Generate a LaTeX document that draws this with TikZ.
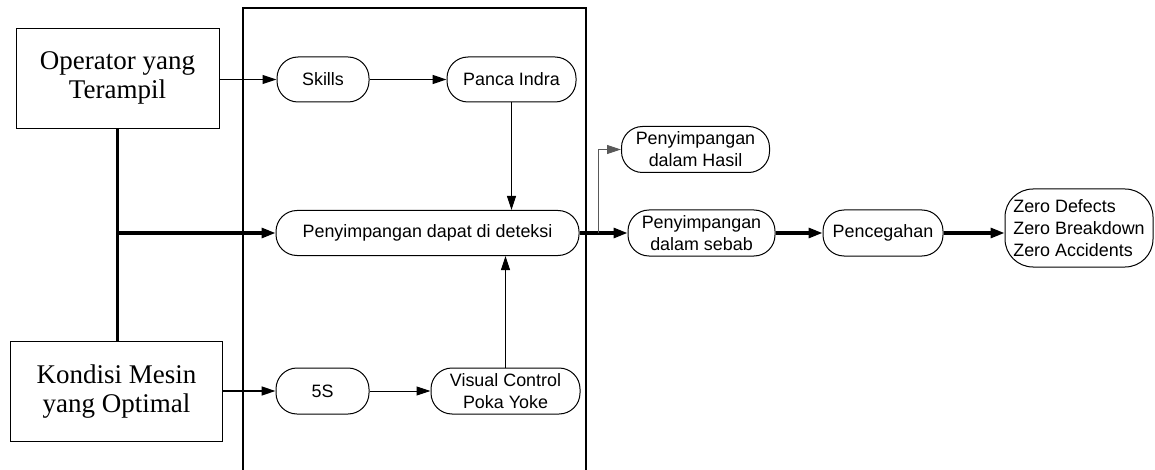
\documentclass[tikz,border=0pt]{standalone}
\usepackage{fontspec}
\setmainfont{Liberation Serif}
\setsansfont{Liberation Sans}
\usetikzlibrary{arrows.meta}
\tikzset{
  srcbox/.style={draw, line width=1pt, inner sep=0pt, align=center,
    font=\rmfamily\fontsize{27}{29}\selectfont},
  pill/.style={draw, line width=1pt, rounded corners=21pt, inner sep=0pt, align=center,
    font=\sffamily\fontsize{17.9}{21.8}\selectfont},
  thinarrow/.style={line width=1pt, -{Triangle[length=14pt,width=9pt]}},
  thickarrow/.style={line width=3pt, -{Triangle[length=14pt,width=10pt]}},
  thickline/.style={line width=3pt},
  frame/.style={line width=2pt},
}
\begin{document}
\begin{tikzpicture}[x=1pt,y=-1pt]
\useasboundingbox (0,0) rectangle (1155,470);
% frame
\draw[frame] (243,470) -- (243,8.5) -- (585.5,8.5) -- (585.5,470);
% nodes
\node[srcbox, minimum width=203pt, minimum height=100pt] (op) at (117.5,78.3) {Operator yang\\Terampil};
\node[srcbox, minimum width=212.5pt, minimum height=100pt] (kon) at (116.5,391.7) {Kondisi Mesin\\yang Optimal};
\node[pill, minimum width=92pt, minimum height=45pt] (skills) at (323,79.5) {Skills};
\node[pill, minimum width=129pt, minimum height=45pt] (panca) at (511.5,79.5) {Panca Indra};
\node[pill, minimum width=303pt, minimum height=45pt] (pdd) at (427.5,233) {Penyimpangan dapat di deteksi};
\node[pill, minimum width=93pt, minimum height=46pt] (s5) at (322.5,391) {5S};
\node[pill, minimum width=149pt, minimum height=46pt] (vc) at (505.5,391) {Visual Control\\Poka Yoke};
\node[pill, minimum width=148pt, minimum height=46pt] (hasil) at (695.5,149.5) {Penyimpangan\\dalam Hasil};
\node[pill, minimum width=147pt, minimum height=46pt] (sebab) at (701.5,233) {Penyimpangan\\dalam sebab};
\node[pill, minimum width=120pt, minimum height=46pt] (pen) at (883,233) {Pencegahan};
\node[pill, minimum width=148pt, minimum height=78pt, rounded corners=28pt, align=left] (zero) at (1079,228) {Zero Defects\\Zero Breakdown\\Zero Accidents};
% connectors
\draw[thinarrow] (op.east |- skills.west) -- (skills.west);
\draw[thinarrow, line width=1.5pt] (skills) -- (panca);
\draw[thinarrow] (panca.south) -- (panca.south |- pdd.north);
\coordinate (j) at (op.south |- pdd.west);
\draw[thickline] (op.south) -- (op.south |- kon.north);
\draw[thickarrow] (j) -- (pdd.west);
\draw[thinarrow, line width=1.5pt] (kon.east |- s5.west) -- (s5.west);
\draw[thinarrow] (s5) -- (vc);
\draw[thinarrow] (vc.north) -- (vc.north |- pdd.south);
\draw[thickarrow] (pdd.east) -- (sebab.west);
\coordinate (b) at (598,233);
\draw[thinarrow, gray!70!black] (b) |- (hasil.west);
\draw[thickarrow] (sebab) -- (pen);
\draw[thickarrow] (pen) -- (pen.east -| zero.west);
\end{tikzpicture}
\end{document}
